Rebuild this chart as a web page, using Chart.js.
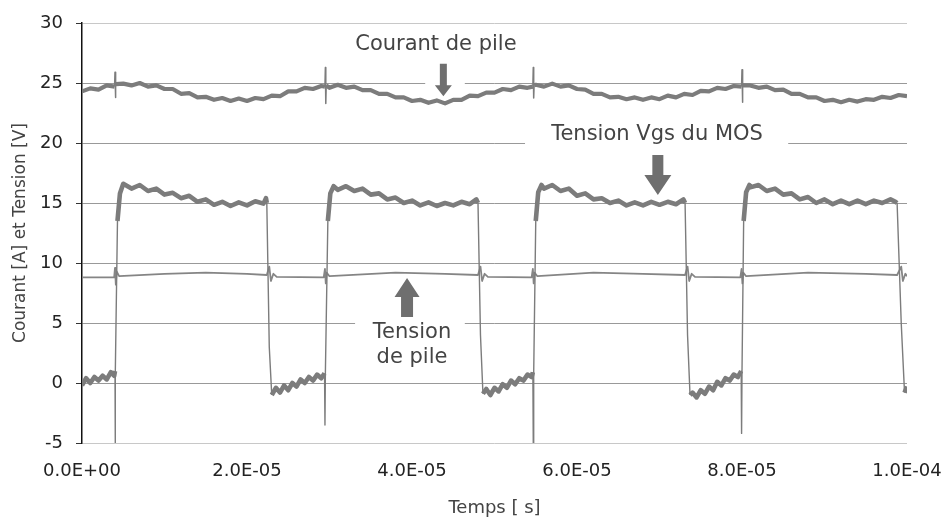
<!DOCTYPE html>
<html>
<head>
<meta charset="utf-8">
<script src="https://cdn.jsdelivr.net/npm/chart.js@4.4.1/dist/chart.umd.min.js"></script>
<style>
  html, body { margin: 0; padding: 0; background: #ffffff; }
  #wrap { width: 946px; height: 519px; position: relative; }
</style>
</head>
<body>
<div id="wrap"><canvas id="c" width="946" height="519"></canvas></div>
<script>
// ---- data (time in microseconds, values in A / V) ----
const xTickLabels = ['0.0E+00', '2.0E-05', '4.0E-05', '6.0E-05', '8.0E-05', '1.0E-04'];
const yTickLabels = ['-5', '0', '5', '10', '15', '20', '25', '30'];

// Courant de pile
const curTime = [
  0, 1, 2, 3, 3.95, 4, 4.05, 4.1,
  5, 6, 7, 8, 9, 10, 11, 12, 13, 14, 15, 16, 17, 18, 19, 20, 21, 22, 23, 24, 25, 26, 27, 28, 29,
  29.45, 29.5, 29.55, 29.6,
  30, 31, 32, 33, 34, 35, 36, 37, 38, 39, 40, 41, 42, 43, 44, 45, 46, 47, 48, 49, 50, 51, 52, 53, 54,
  54.65, 54.7, 54.75, 54.8,
  55, 56, 57, 58, 59, 60, 61, 62, 63, 64, 65, 66, 67, 68, 69, 70, 71, 72, 73, 74, 75, 76, 77, 78, 79,
  79.95, 80, 80.05, 80.1,
  81, 82, 83, 84, 85, 86, 87, 88, 89, 90, 91, 92, 93, 94, 95, 96, 97, 98, 99, 100
];
const curValue = [
  24.3, 24.55, 24.45, 24.8, 24.7, 25.9, 23.8, 24.9,
  24.95, 24.8, 25.0, 24.7, 24.8, 24.5, 24.5, 24.1, 24.15, 23.8, 23.85, 23.6, 23.75, 23.5, 23.7, 23.5, 23.75, 23.65, 23.95, 23.9, 24.3, 24.3, 24.6, 24.5, 24.75,
  24.7, 26.3, 23.3, 24.8,
  24.6, 24.85, 24.6, 24.7, 24.4, 24.4, 24.1, 24.1, 23.8, 23.8, 23.5, 23.6, 23.35, 23.55, 23.3, 23.6, 23.6, 23.95, 23.9, 24.2, 24.2, 24.5, 24.4, 24.7, 24.6,
  24.7, 26.3, 23.75, 24.8,
  24.85, 24.7, 24.95, 24.7, 24.8, 24.5, 24.45, 24.1, 24.1, 23.8, 23.85, 23.65, 23.8, 23.6, 23.8, 23.65, 23.95, 23.8, 24.1, 24.0, 24.35, 24.3, 24.6, 24.5, 24.75,
  24.7, 26.1, 23.4, 24.8,
  24.8, 24.6, 24.7, 24.4, 24.45, 24.1, 24.1, 23.8, 23.8, 23.5, 23.6, 23.4, 23.6, 23.45, 23.65, 23.6, 23.85, 23.75, 24.0, 23.9
];

// Tension Vgs du MOS
const vgsTime = [
  0, 0.5, 1, 1.5, 2, 2.5, 3, 3.5, 3.9, 4.0, 4.02, 4.05,
  4.3, 4.6, 5,
  6, 7, 8, 9, 10, 11, 12, 13, 14, 15, 16, 17, 18, 19, 20, 21, 22, 22.3,
  22.4, 22.7, 23.0,
  23.5, 24, 24.5, 25, 25.5, 26, 26.5, 27, 27.5, 28, 28.5, 29, 29.4, 29.45, 29.5,
  29.8, 30.1, 30.5,
  31, 32, 33, 34, 35, 36, 37, 38, 39, 40, 41, 42, 43, 44, 45, 46, 47, 47.8,
  48.0, 48.3, 48.6,
  49, 49.5, 50, 50.5, 51, 51.5, 52, 52.5, 53, 53.5, 54, 54.5, 54.65, 54.7, 54.75,
  55.0, 55.3, 55.7,
  56, 57, 58, 59, 60, 61, 62, 63, 64, 65, 66, 67, 68, 69, 70, 71, 72, 72.9,
  73.1, 73.4, 73.7,
  74, 74.5, 75, 75.5, 76, 76.5, 77, 77.5, 78, 78.5, 79, 79.5, 79.9, 79.95, 80.0,
  80.2, 80.5, 80.9,
  81, 82, 83, 84, 85, 86, 87, 88, 89, 90, 91, 92, 93, 94, 95, 96, 97, 98, 98.6,
  98.8, 99.3, 99.7, 100
];
const vgsValue = [
  -0.2, 0.4, 0.0, 0.5, 0.2, 0.6, 0.3, 0.9, 0.6, 1.0, -5, 0.8,
  13.5, 15.8, 16.6,
  16.2, 16.5, 16.0, 16.2, 15.7, 15.85, 15.4, 15.6, 15.1, 15.3, 14.85, 15.1, 14.75, 15.05, 14.8, 15.15, 14.95, 15.4,
  15.0, 3.0, -1.0,
  -0.4, -0.8, -0.2, -0.6, 0.0, -0.3, 0.3, 0.0, 0.5, 0.2, 0.7, 0.4, 0.8, -3.5, 0.8,
  13.5, 15.8, 16.4,
  16.1, 16.4, 16.0, 16.2, 15.7, 15.8, 15.3, 15.45, 15.0, 15.2, 14.8, 15.05, 14.75, 15.0, 14.8, 15.1, 14.9, 15.3,
  15.0, 4.0, -0.9,
  -0.5, -1.0, -0.4, -0.7, -0.1, -0.4, 0.2, -0.1, 0.4, 0.2, 0.7, 0.5, 0.9, -5, 0.8,
  13.5, 15.9, 16.5,
  16.2, 16.5, 16.0, 16.2, 15.6, 15.8, 15.3, 15.4, 15.0, 15.2, 14.8, 15.05, 14.8, 15.1, 14.85, 15.1, 14.9, 15.3,
  15.0, 4.0, -1.0,
  -0.8, -1.2, -0.6, -0.9, -0.3, -0.6, 0.1, -0.2, 0.4, 0.2, 0.7, 0.5, 1.0, -4.2, 0.9,
  13.5, 15.9, 16.5,
  16.3, 16.5, 16.0, 16.2, 15.7, 15.8, 15.3, 15.5, 15.0, 15.3, 14.9, 15.2, 14.9, 15.2, 14.9, 15.2, 15.0, 15.3, 15.1,
  15.0, 5.0, -0.8, -0.3
];

// Tension de pile
const pileTime = [
  0, 2, 3.9, 4.0, 4.1, 4.2, 4.5,
  10, 15, 20,
  22.4, 22.7, 22.9, 23.2, 23.6,
  29.3, 29.45, 29.55, 29.65, 30,
  38, 44,
  48.0, 48.3, 48.5, 48.8, 49.2,
  54.5, 54.65, 54.75, 54.85, 55.2,
  62, 68,
  73.1, 73.4, 73.6, 73.9, 74.3,
  79.8, 79.95, 80.05, 80.15, 80.5,
  88, 95,
  98.8, 99.3, 99.5, 99.8, 100
];
const pileValue = [
  8.8, 8.8, 8.8, 9.6, 8.2, 9.3, 8.9,
  9.1, 9.2, 9.1,
  9.0, 9.7, 8.5, 9.1, 8.85,
  8.8, 9.5, 8.3, 9.2, 8.9,
  9.2, 9.1,
  9.0, 9.7, 8.5, 9.1, 8.85,
  8.8, 9.5, 8.3, 9.2, 8.9,
  9.2, 9.1,
  9.0, 9.7, 8.5, 9.1, 8.85,
  8.8, 9.5, 8.3, 9.2, 8.9,
  9.2, 9.1,
  9.0, 9.7, 8.5, 9.1, 8.9
];

// ---- annotations (positions in data units) ----
const annoBoxes = [
  { x0: 41.6, x1: 46.4, y0: 26.8, y1: 23.9 },
  { x0: 53.7, x1: 85.6, y0: 22.3, y1: 17.8 },
  { x0: 33.1, x1: 46.4, y0: 8.3, y1: 1.3 }
];
const annoTexts = [
  { text: 'Courant de pile', x: 42.9, y: 28.17 },
  { text: 'Tension Vgs du MOS', x: 69.7, y: 20.67 },
  { text: 'Tension', x: 40.0, y: 4.17 },
  { text: 'de pile', x: 40.0, y: 2.08 }
];
const annoArrows = [
  { x: 43.8, from: 26.6, to: 23.9, shaft: 7, head: 17, headLen: 11 },
  { x: 69.8, from: 19.0, to: 15.67, shaft: 11, head: 27, headLen: 20 },
  { x: 39.4, from: 5.5, to: 8.75, shaft: 12, head: 25, headLen: 19 }
];

function pts(t, v) { return t.map((x, i) => ({ x: x, y: v[i] })); }

const TRACE = '#7c7c7c';

const annoPlugin = {
  id: 'anno',
  beforeDatasetsDraw(chart) {
    const { ctx, scales: { x, y } } = chart;
    ctx.save();
    ctx.fillStyle = '#ffffff';
    annoBoxes.forEach(b => {
      const px0 = x.getPixelForValue(b.x0), px1 = x.getPixelForValue(b.x1);
      const py0 = y.getPixelForValue(b.y0), py1 = y.getPixelForValue(b.y1);
      ctx.fillRect(px0, py0, px1 - px0, py1 - py0);
    });
    ctx.restore();
  },
  afterDatasetsDraw(chart) {
    const { ctx, scales: { x, y } } = chart;
    ctx.save();
    ctx.fillStyle = '#444444';
    ctx.font = '21px "DejaVu Sans"';
    ctx.textAlign = 'center';
    ctx.textBaseline = 'middle';
    annoTexts.forEach(t => {
      ctx.fillText(t.text, x.getPixelForValue(t.x), y.getPixelForValue(t.y));
    });
    ctx.fillStyle = '#6f6f6f';
    annoArrows.forEach(a => {
      const px = x.getPixelForValue(a.x);
      const p0 = y.getPixelForValue(a.from);
      const p1 = y.getPixelForValue(a.to);
      const dir = p1 > p0 ? 1 : -1;
      const hb = p1 - dir * a.headLen;
      ctx.beginPath();
      ctx.moveTo(px - a.shaft / 2, p0);
      ctx.lineTo(px + a.shaft / 2, p0);
      ctx.lineTo(px + a.shaft / 2, hb);
      ctx.lineTo(px + a.head / 2, hb);
      ctx.lineTo(px, p1);
      ctx.lineTo(px - a.head / 2, hb);
      ctx.lineTo(px - a.shaft / 2, hb);
      ctx.closePath();
      ctx.fill();
    });
    ctx.restore();
  }
};

const thinOnJump = (thick, thin, lim) => ctx => {
  const d = Math.abs(ctx.p1.parsed.y - ctx.p0.parsed.y);
  return d > lim ? thin : thick;
};

new Chart(document.getElementById('c'), {
  type: 'line',
  data: {
    datasets: [
      {
        label: 'Courant de pile',
        data: pts(curTime, curValue),
        borderColor: TRACE,
        borderWidth: 4.2,
        segment: { borderWidth: thinOnJump(4.2, 1.5, 0.9) },
        pointRadius: 0,
        borderJoinStyle: 'round',
        tension: 0
      },
      {
        label: 'Tension Vgs du MOS',
        data: pts(vgsTime, vgsValue),
        borderColor: TRACE,
        borderWidth: 4.6,
        segment: { borderWidth: thinOnJump(4.6, 1.4, 2.5) },
        pointRadius: 0,
        borderJoinStyle: 'round',
        tension: 0
      },
      {
        label: 'Tension de pile',
        data: pts(pileTime, pileValue),
        borderColor: '#858585',
        borderWidth: 1.8,
        pointRadius: 0,
        borderJoinStyle: 'round',
        tension: 0
      }
    ]
  },
  options: {
    responsive: false,
    animation: false,
    devicePixelRatio: 1,
    layout: { padding: { left: 0, right: 39, top: 23, bottom: 0 } },
    plugins: { legend: { display: false }, tooltip: { enabled: false } },
    scales: {
      x: {
        type: 'linear',
        min: 0, max: 100,
        afterFit: s => { s.height = 76; s.paddingLeft = 0; s.paddingRight = 0; },
        afterBuildTicks: s => { s.ticks = xTickLabels.map((l, i) => ({ value: i * 20 })); },
        grid: { display: false, drawTicks: false },
        border: { display: false },
        ticks: {
          padding: 18,
          color: '#222',
          font: { family: 'DejaVu Sans', size: 18 },
          maxRotation: 0,
          autoSkip: false,
          callback: (v, i) => xTickLabels[i]
        },
        title: {
          display: true,
          text: 'Temps [ s]',
          color: '#444',
          font: { family: 'DejaVu Sans', size: 18 },
          padding: { top: 0, bottom: 0 }
        }
      },
      y: {
        type: 'linear',
        min: -5, max: 30,
        afterFit: s => { s.width = 82; s.paddingTop = 0; s.paddingBottom = 0; },
        afterBuildTicks: s => { s.ticks = yTickLabels.map(l => ({ value: Number(l) })); },
        grid: {
          color: c => (c.tick && (c.tick.value === 30 || c.tick.value === -5)) ? '#c8c8c8' : '#999999',
          lineWidth: 1,
          tickLength: 6,
          tickColor: '#333'
        },
        border: { display: true, color: '#111', width: 1.5 },
        ticks: {
          padding: 13,
          color: '#222',
          font: { family: 'DejaVu Sans', size: 18 },
          autoSkip: false,
          callback: (v, i) => yTickLabels[i]
        },
        title: {
          display: true,
          text: 'Courant [A] et Tension [V]',
          color: '#444',
          font: { family: 'DejaVu Sans', size: 17 },
          padding: { top: 10, bottom: 0 }
        }
      }
    }
  },
  plugins: [annoPlugin]
});
</script>
</body>
</html>
